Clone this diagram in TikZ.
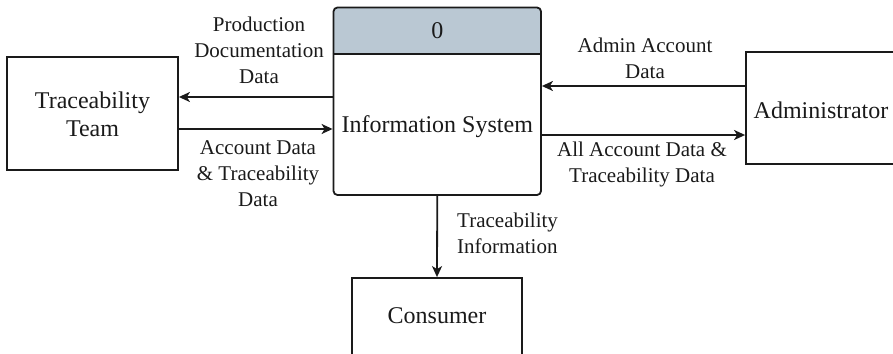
\documentclass[tikz,border=0pt]{standalone}
\usepackage{fontspec}
\setmainfont{Liberation Serif}
\usetikzlibrary{arrows.meta,calc}
\definecolor{hdrcol}{HTML}{BAC8D3}
\definecolor{ink}{HTML}{1A1A1A}
\begin{document}
\begin{tikzpicture}[x=1pt,y=-1pt,
  box/.style={draw=ink, line width=1.8pt, inner sep=0pt},
  flow/.style={draw=ink, line width=1.8pt, -{Stealth[length=11pt,width=10pt,inset=3pt]}},
  lbl/.style={text=ink, font=\fontsize{21}{26}\selectfont, align=center, inner sep=0pt},
  big/.style={text=ink, font=\fontsize{24}{28}\selectfont, align=center, inner sep=0pt}]
\useasboundingbox (0,0) rectangle (893,353);
% helper coordinates for connector heights
\coordinate (yA) at (0,97);
\coordinate (yB) at (0,129);
\coordinate (yC) at (0,86);
\coordinate (yD) at (0,135);
\coordinate (yH) at (0,54);
% Traceability Team
\node[box, minimum width=171pt, minimum height=113pt] (tt) at (92.5,113.5) {};
\node[big] (tttext) at (92.5,114) {Traceability\\Team};
% process
\fill[hdrcol, rounded corners=4pt] (333.5,7.5) rectangle (541,54);
\fill[hdrcol] (333.5,30) rectangle (541,54);
\node[box, rounded corners=4pt, minimum width=207.5pt, minimum height=187.5pt] (proc) at (437.25,101.25) {};
\draw[ink, line width=1.8pt] (proc.west |- yH) -- (proc.east |- yH);
\node[big] (num) at (437.25,31) {0};
\node[big] (ptext) at (437.25,127) {Information System};
% Administrator
\node[box, minimum width=154pt, minimum height=112pt] (admin) at (823,108) {};
\node[big] (admintext) at (821,110) {Administrator};
% Consumer
\node[box, minimum width=170pt, minimum height=80pt] (cons) at (437,318) {};
\node[big] (constext) at (437,316) {Consumer};
% flows
\draw[flow] (proc.west |- yA) -- (tt.east |- yA);
\draw[flow] (tt.east |- yB) -- (proc.west |- yB);
\draw[flow] (admin.west |- yC) -- (proc.east |- yC);
\draw[flow] (proc.east |- yD) -- (admin.west |- yD);
\draw[flow] (proc.south) -- (cons.north);
% labels
\node[lbl] (l1) at (259,50) {Production\\Documentation\\Data};
\node[lbl] (l2) at (258,174) {Account Data\\\& Traceability\\Data};
\node[lbl] (l3) at (645,58) {Admin Account\\Data};
\node[lbl] (l4) at (642,164.5) {All Account Data \&\\Traceability Data};
\node[lbl, align=left, anchor=west] (l5) at (457,233.5) {Traceability\\Information};
\end{tikzpicture}
\end{document}
